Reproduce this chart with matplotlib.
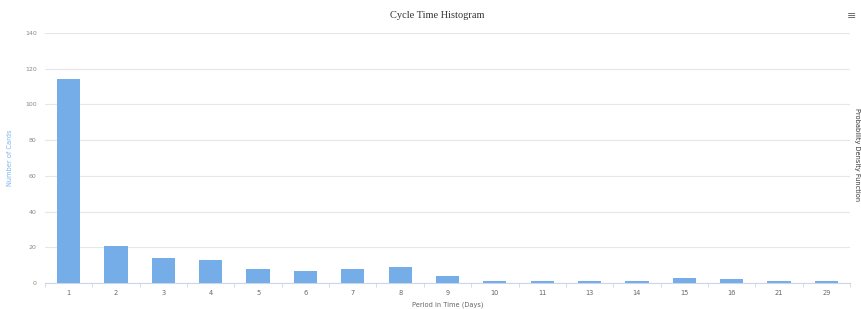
import matplotlib
matplotlib.use("Agg")
import matplotlib.pyplot as plt
import numpy as np

categories = ["1", "2", "3", "4", "5", "6", "7", "8", "9", "10", "11", "13", "14", "15", "16", "21", "29"]
counts = [114, 21, 14, 13, 8, 7, 8, 9, 4, 1, 1, 1, 1, 3, 2, 1, 1]
yticks = [0, 20, 40, 60, 80, 100, 120, 140]

fig = plt.figure(figsize=(8.61, 3.09), dpi=100)
W, H = 861, 309
ax = fig.add_axes([45 / W, (H - 283) / H, (850 - 45) / W, (283 - 33) / H])

x = np.arange(len(categories))
ax.bar(x, counts, width=0.49, color="#74ade8", zorder=3)

ax.set_xlim(-0.5, len(categories) - 0.5)
ax.set_ylim(0, 140)
ax.set_yticks(yticks)
ax.set_yticklabels([str(v) for v in yticks], fontsize=4.5, color="#888888")
ax.set_xticks(x)
ax.set_xticklabels(categories, fontsize=4.8, color="#666666")
ax.set_xticks(np.arange(len(categories) + 1) - 0.5, minor=True)
ax.tick_params(axis="x", which="major", length=0, pad=5)
ax.tick_params(axis="x", which="minor", length=3, color="#ccd6eb", width=0.6)
ax.tick_params(axis="y", length=0, pad=6)

ax.grid(axis="y", color="#e6e6e6", linewidth=0.8, zorder=0)
for s in ["top", "right", "left"]:
    ax.spines[s].set_visible(False)
ax.spines["bottom"].set_color("#ccd6eb")
ax.spines["bottom"].set_linewidth(0.8)

ax.set_xlabel("Period in Time (Days)", fontsize=4.8, color="#666666", labelpad=4)
ax.set_ylabel("Number of Cards", fontsize=4.8, color="#7cb5ec")
ax.yaxis.set_label_coords((13 - 45) / 805, 0.5)

fig.text(437 / W, 1 - 15 / H, "Cycle Time Histogram", ha="center", va="center",
         fontsize=7.5, color="#333333", family="Liberation Serif")
fig.text(857 / W, 1 - 155 / H, "Probability Density Function", ha="center", va="center",
         rotation=270, fontsize=4.8, color="#333333")
fig.text(852 / W, 1 - 16 / H, "\u2261", ha="center", va="center", fontsize=8, color="#666666")

fig.savefig("out.png", dpi=100)
